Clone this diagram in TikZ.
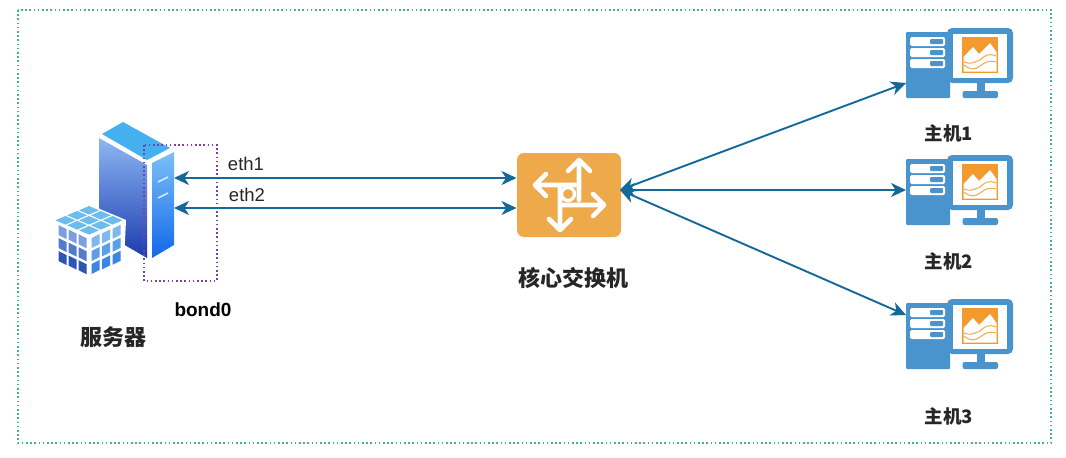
\documentclass[tikz,border=0pt]{standalone}
\usepackage{fontspec}
\setmainfont{Liberation Sans}
\newfontfamily\cjk{Noto Sans CJK SC}
\usetikzlibrary{arrows.meta}
\definecolor{linkblue}{HTML}{14699B}
\definecolor{framegreen}{HTML}{45B583}
\definecolor{bondpurple}{HTML}{7A3FA8}
\definecolor{hostblue}{HTML}{4A94CE}
\definecolor{hostorange}{HTML}{F39A2E}
\definecolor{switchorange}{HTML}{EDA94A}
\definecolor{topface}{HTML}{45B0F0}
\definecolor{lefttop}{HTML}{8DB6F2}
\definecolor{leftbot}{HTML}{1A3CB0}
\definecolor{righttop}{HTML}{7CC0F8}
\definecolor{rightbot}{HTML}{1268E8}
\definecolor{tilea}{HTML}{6CBDEE}
\definecolor{tileb}{HTML}{7F9FDC}
\definecolor{tilec}{HTML}{2C56B4}
\definecolor{tiled}{HTML}{7DB8EE}
\definecolor{tilee}{HTML}{3A86E2}
\tikzset{
  x=1pt,y=-1pt,
  link/.style={draw=linkblue,line width=1.9pt,{Stealth[length=15pt,width=14pt,inset=4.5pt]}-{Stealth[length=15pt,width=14pt,inset=4.5pt]}},
  namelabel/.style={font=\cjk\bfseries\fontsize{22}{24}\selectfont,inner sep=0pt,text=black!85},
  hostlabel/.style={font=\cjk\bfseries\fontsize{18.5}{20}\selectfont,inner sep=0pt,text=black!85},
  portlabel/.style={font=\fontsize{18.5}{20}\selectfont,inner sep=0pt,text=black!85},
  bondlabel/.style={font=\bfseries\fontsize{19}{20}\selectfont,inner sep=0pt},
  dotline/.style={line width=1.6pt,dash pattern=on 1.6pt off 2.6pt},
  swarrow/.style={draw=white,line width=4.6pt,line cap=round,line join=round},
  hosticon/.pic={
    \fill[hostblue,rounded corners=1pt] (906,32) -- (950,32) -- (950,98) -- (906,98) -- cycle;
    \foreach \ya in {37,48,59}{
      \fill[white,rounded corners=1.5pt] (910,\ya) rectangle (945,\ya+9);
      \fill[hostblue,rounded corners=1pt] (930,\ya+2) rectangle (943,\ya+7);
    }
    \fill[hostblue,rounded corners=5pt] (947,28) rectangle (1013,83);
    \fill[white] (953,33.5) rectangle (1007,78);
    \fill[hostblue] (977,82) rectangle (985,92);
    \fill[hostblue,rounded corners=2pt] (962.5,91) rectangle (998,98);
    \fill[hostorange] (962,37) rectangle (998,73);
    \fill[white] (963.5,71.5) -- (963.5,57) -- (973,47) -- (979,54) -- (990,43) -- (996.5,52) -- (996.5,71.5) -- cycle;
    \draw[hostorange!85!white,line width=1pt] (964,62) .. controls (970,65) and (975,62) .. (980,60)
      .. controls (985,55) and (990,53) .. (996,56);
    \draw[hostorange!85!white,line width=1pt] (964,65) .. controls (970,70) and (975,70) .. (980,66)
      .. controls (985,62) and (990,60) .. (996,62);
  }
}
\begin{document}
\begin{tikzpicture}
\useasboundingbox (0,0) rectangle (1066,458);
\fill[white] (0,0) rectangle (1066,458);
\draw[framegreen,dotline] (18,10) rectangle (1051,443);

% server
\fill[topface] (123,122) -- (170,148) -- (147,160) -- (102,134) -- cycle;
\shade[top color=lefttop,bottom color=leftbot] (99,138) -- (147,165) -- (147,258) -- (99,230) -- cycle;
\shade[top color=righttop,bottom color=rightbot] (152,163) -- (174,152) -- (174,245) -- (152,258) -- cycle;
\draw[white!85!cyan,line width=1.4pt] (158,182) -- (168,177) (158,198) -- (168,193);
% cube
\fill[white] (88,204) -- (126,220) -- (124,262) -- (87,278) -- (55,262) -- (55,221) -- cycle;
\foreach \i in {0,1,2}{\foreach \j in {0,1,2}{
  \pgfmathsetmacro\ta{\j*50}
  \pgfmathsetmacro\cx{89+(\i-\j)*11.8}
  \pgfmathsetmacro\cy{210.3+(\i+\j)*5}
  \fill[tilea] (\cx-10,\cy) -- (\cx,\cy-4.3) -- (\cx+10,\cy) -- (\cx,\cy+4.3) -- cycle;
  \fill[tilec!\ta!tileb] ({58.5+\i*10},{225+\i*4.6+\j*13}) -- ({66.5+\i*10},{229+\i*4.6+\j*13}) -- ({66.5+\i*10},{239+\i*4.6+\j*13}) -- ({58.5+\i*10},{235+\i*4.6+\j*13}) -- cycle;
  \fill[tilee!\ta!tiled] ({91.5+\i*10.5},{238-\i*4.6+\j*13}) -- ({99.5+\i*10.5},{234-\i*4.6+\j*13}) -- ({99.5+\i*10.5},{244-\i*4.6+\j*13}) -- ({91.5+\i*10.5},{248-\i*4.6+\j*13}) -- cycle;
}}
\draw[bondpurple,dotline] (144,145) rectangle (217,281);
\coordinate (eth1s) at (174,178);
\coordinate (eth2s) at (174,208);

% switch
\node[fill=switchorange,rounded corners=7pt,minimum width=104pt,minimum height=84pt,inner sep=0pt] (sw) at (569,195) {};
\coordinate (swa) at (516.5,178);
\coordinate (swb) at (516.5,208);
\coordinate (swc) at (620,190);
\draw[swarrow] (579,200) -- (579,160) (568,171) -- (579,160) -- (590,171);
\draw[swarrow] (576,185) -- (535,185) (546,174) -- (535,185) -- (546,196);
\draw[swarrow] (560,205) -- (604,205) (593,194) -- (604,205) -- (593,216);
\draw[swarrow] (560,188) -- (560,230) (549,219) -- (560,230) -- (571,219);
\draw[white,line width=3.4pt] (568,194) circle (6.5pt);

% hosts
\path (0,0) pic {hosticon};
\path (0,127) pic {hosticon};
\path (0,271) pic {hosticon};
\coordinate (h1) at (906,83);
\coordinate (h2) at (906,190);
\coordinate (h3) at (906,315);

% links
\draw[link] (eth1s) -- (swa);
\draw[link] (eth2s) -- (swb);
\draw[link] (swc) -- (h1);
\draw[link] (swc) -- (h2);
\draw[link] (swc) -- (h3);

% labels
\node[portlabel] (l1) at (246,164) {eth1};
\node[portlabel] (l2) at (247,195) {eth2};
\node[bondlabel] (l3) at (203,310) {bond0};
\node[namelabel] (l4) at (113,337) {服务器};
\node[namelabel] (l5) at (573,278) {核心交换机};
\node[hostlabel] (l6) at (949,133) {主机1};
\node[hostlabel] (l7) at (949,261) {主机2};
\node[hostlabel] (l8) at (949,416) {主机3};
\end{tikzpicture}
\end{document}
